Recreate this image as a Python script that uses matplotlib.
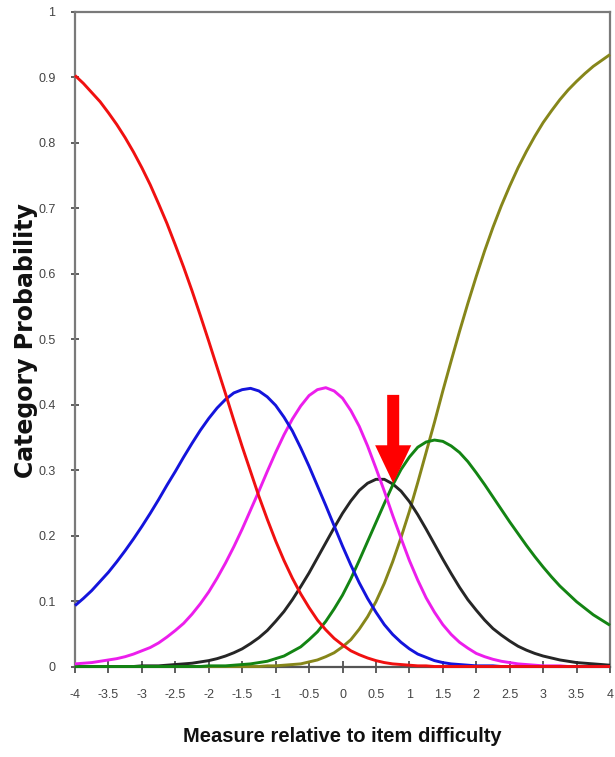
import matplotlib
matplotlib.use("Agg")
import matplotlib.pyplot as plt
from matplotlib.patches import FancyArrow

# ---- data (category probability vs. measure) ----
measure = [-4.0, -3.875, -3.75, -3.625, -3.5, -3.375, -3.25, -3.125,
           -3.0, -2.875, -2.75, -2.625, -2.5, -2.375, -2.25, -2.125,
           -2.0, -1.875, -1.75, -1.625, -1.5, -1.375, -1.25, -1.125,
           -1.0, -0.875, -0.75, -0.625, -0.5, -0.375, -0.25, -0.125,
           0.0, 0.125, 0.25, 0.375, 0.5, 0.625, 0.75, 0.875,
           1.0, 1.125, 1.25, 1.375, 1.5, 1.625, 1.75, 1.875,
           2.0, 2.125, 2.25, 2.375, 2.5, 2.625, 2.75, 2.875,
           3.0, 3.125, 3.25, 3.375, 3.5, 3.625, 3.75, 3.875, 4.0]

cat_red = [0.903, 0.891, 0.877, 0.863, 0.846, 0.828, 0.808, 0.786,
           0.762, 0.736, 0.707, 0.677, 0.644, 0.610, 0.574, 0.536,
           0.497, 0.457, 0.417, 0.376, 0.336, 0.298, 0.260, 0.225,
           0.192, 0.162, 0.135, 0.111, 0.090, 0.071, 0.056, 0.043,
           0.033, 0.024, 0.018, 0.013, 0.009, 0.006, 0.004, 0.003,
           0.002, 0.001, 0.001, 0.0, 0.0, 0.0, 0.0, 0.0,
           0.0, 0.0, 0.0, 0.0, 0.0, 0.0, 0.0, 0.0,
           0.0, 0.0, 0.0, 0.0, 0.0, 0.0, 0.0, 0.0, 0.0]
cat_blue = [0.093, 0.104, 0.116, 0.130, 0.144, 0.160, 0.177, 0.195,
            0.214, 0.234, 0.255, 0.277, 0.298, 0.320, 0.341, 0.361,
            0.379, 0.395, 0.408, 0.418, 0.423, 0.425, 0.421, 0.412,
            0.399, 0.381, 0.360, 0.334, 0.306, 0.276, 0.246, 0.215,
            0.184, 0.155, 0.128, 0.104, 0.083, 0.064, 0.049, 0.037,
            0.027, 0.019, 0.014, 0.009, 0.006, 0.004, 0.003, 0.002,
            0.001, 0.001, 0.001, 0.0, 0.0, 0.0, 0.0, 0.0,
            0.0, 0.0, 0.0, 0.0, 0.0, 0.0, 0.0, 0.0, 0.0]
cat_magenta = [0.004, 0.005, 0.006, 0.008, 0.010, 0.012, 0.015, 0.019,
               0.024, 0.029, 0.036, 0.045, 0.055, 0.066, 0.080, 0.096,
               0.114, 0.135, 0.158, 0.183, 0.210, 0.239, 0.268, 0.298,
               0.327, 0.354, 0.378, 0.398, 0.414, 0.423, 0.426, 0.421,
               0.410, 0.391, 0.367, 0.337, 0.303, 0.268, 0.231, 0.196,
               0.162, 0.132, 0.105, 0.083, 0.064, 0.049, 0.037, 0.028,
               0.020, 0.015, 0.011, 0.008, 0.006, 0.004, 0.003, 0.002,
               0.001, 0.001, 0.001, 0.0, 0.0, 0.0, 0.0, 0.0, 0.0]
cat_black = [0.0, 0.0, 0.0, 0.0, 0.0, 0.0, 0.0, 0.0,
             0.001, 0.001, 0.001, 0.002, 0.003, 0.004, 0.005, 0.007,
             0.009, 0.012, 0.016, 0.021, 0.027, 0.035, 0.044, 0.055,
             0.069, 0.084, 0.102, 0.122, 0.143, 0.166, 0.189, 0.212,
             0.234, 0.253, 0.269, 0.280, 0.286, 0.286, 0.279, 0.268,
             0.252, 0.232, 0.210, 0.187, 0.164, 0.142, 0.121, 0.102,
             0.086, 0.071, 0.058, 0.048, 0.039, 0.031, 0.025, 0.020,
             0.016, 0.013, 0.010, 0.008, 0.006, 0.005, 0.004, 0.003, 0.002]
cat_green = [0.0, 0.0, 0.0, 0.0, 0.0, 0.0, 0.0, 0.0,
             0.0, 0.0, 0.0, 0.0, 0.0, 0.0, 0.0, 0.0,
             0.001, 0.001, 0.001, 0.002, 0.003, 0.004, 0.006, 0.008,
             0.012, 0.016, 0.023, 0.030, 0.041, 0.053, 0.069, 0.088,
             0.109, 0.134, 0.162, 0.191, 0.220, 0.249, 0.277, 0.301,
             0.320, 0.335, 0.343, 0.346, 0.344, 0.337, 0.327, 0.313,
             0.296, 0.278, 0.259, 0.240, 0.221, 0.203, 0.185, 0.168,
             0.152, 0.137, 0.123, 0.111, 0.099, 0.089, 0.079, 0.071, 0.063]
cat_olive = [0.0, 0.0, 0.0, 0.0, 0.0, 0.0, 0.0, 0.0,
             0.0, 0.0, 0.0, 0.0, 0.0, 0.0, 0.0, 0.0,
             0.0, 0.0, 0.0, 0.0, 0.0, 0.0, 0.0, 0.001,
             0.001, 0.002, 0.003, 0.004, 0.007, 0.010, 0.015, 0.021,
             0.030, 0.041, 0.057, 0.076, 0.099, 0.127, 0.160, 0.197,
             0.237, 0.281, 0.327, 0.373, 0.421, 0.467, 0.512, 0.555,
             0.596, 0.635, 0.671, 0.704, 0.734, 0.762, 0.787, 0.810,
             0.831, 0.849, 0.866, 0.881, 0.894, 0.906, 0.917, 0.926, 0.935]

x_ticks = [-4, -3.5, -3, -2.5, -2, -1.5, -1, -0.5, 0, 0.5, 1, 1.5, 2, 2.5, 3, 3.5, 4]
x_tick_labels = ["-4", "-3.5", "-3", "-2.5", "-2", "-1.5", "-1", "-0.5", "0",
                 "0.5", "1", "1.5", "2", "2.5", "3", "3.5", "4"]
y_ticks = [0, 0.1, 0.2, 0.3, 0.4, 0.5, 0.6, 0.7, 0.8, 0.9, 1.0]
y_tick_labels = ["0", "0.1", "0.2", "0.3", "0.4", "0.5", "0.6", "0.7", "0.8", "0.9", "1"]

arrow_x = 0.758
arrow_top = 0.415
arrow_tip = 0.280

# ---- figure ----
fig = plt.figure(figsize=(6.15, 7.57), dpi=100)
ax = fig.add_axes([75 / 615, 1 - 666.5 / 757, 535 / 615, (666.5 - 12) / 757])

series = [
    (cat_olive, "#86861a", 3),
    (cat_black, "#262626", 4),
    (cat_green, "#138413", 5),
    (cat_magenta, "#ec1eec", 6),
    (cat_blue, "#1414dc", 7),
    (cat_red, "#f01010", 8),
]
for vals, col, z in series:
    ax.plot(measure, vals, color=col, lw=2.1, zorder=z, solid_joinstyle="round",
            solid_capstyle="butt", clip_on=False)

ax.add_patch(FancyArrow(arrow_x, arrow_top, 0, arrow_tip - arrow_top,
                        width=0.18, head_width=0.54, head_length=0.058,
                        length_includes_head=True, color="#ff0000", lw=0, zorder=10))

ax.set_xlim(-4, 4)
ax.set_ylim(0, 1)

sans = ["Liberation Sans", "DejaVu Sans"]
ax.set_xticks(x_ticks)
ax.set_xticklabels(x_tick_labels, family=sans, fontsize=9, color="#444444")
ax.set_yticks(y_ticks)
ax.set_yticklabels(y_tick_labels, family=sans, fontsize=9, color="#444444")
ax.tick_params(axis="x", direction="inout", length=9, width=1.1, color="#333333", pad=12)
ax.tick_params(axis="y", direction="inout", length=6, width=1.1, color="#333333", pad=11)

for s in ax.spines.values():
    s.set_color("#7a7a7a")
    s.set_linewidth(1.6)
ax.spines["bottom"].set_color("#555555")

fig.text(342 / 615, 1 - 737 / 757, "Measure relative to item difficulty",
         family=sans, fontweight="bold", fontsize=14.5, color="#111111",
         ha="center", va="center")
fig.text(26 / 615, 1 - 341 / 757, "Category Probability",
         family=["DejaVu Sans"], fontweight="bold", fontsize=17, color="#111111",
         ha="center", va="center", rotation=90)

fig.savefig("out.png", dpi=100)
